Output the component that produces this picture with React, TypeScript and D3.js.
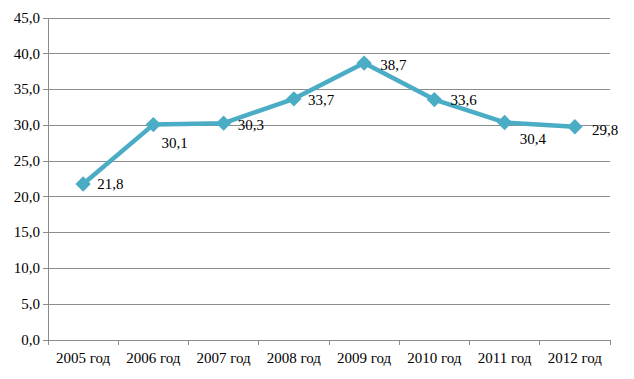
import React from "react";
import * as d3 from "d3";

const categories = ["2005 год", "2006 год", "2007 год", "2008 год", "2009 год", "2010 год", "2011 год", "2012 год"];
const values = [21.8, 30.1, 30.3, 33.7, 38.7, 33.6, 30.4, 29.8];
const yTicks = [0, 5, 10, 15, 20, 25, 30, 35, 40, 45];
// label offsets (dx, dy of baseline) relative to each point
const labelDx = [14, 8, 14, 14, 16, 16, 15, 17];
const labelDy = [5, 23, 7, 6, 7, 5, 22, 8];

const W = 634;
const H = 379;
const margin = { left: 48, right: 24, top: 18, bottom: 39 };

const fmt = (v: number) => v.toFixed(1).replace(".", ",");

export default function App() {
  const x = d3
    .scaleBand<string>()
    .domain(categories)
    .range([margin.left, W - margin.right])
    .paddingInner(0)
    .paddingOuter(0);
  const y = d3.scaleLinear().domain([0, 45]).range([H - margin.bottom, margin.top]);
  const cx = (c: string) => (x(c) as number) + x.bandwidth() / 2;

  const line = d3
    .line<number>()
    .x((_, i) => cx(categories[i]))
    .y((d) => y(d));

  const diamond = d3.symbol().type(d3.symbolDiamond2).size(150)();

  const grid = "#8c8c8c";
  const color = "#4BACC6";
  const textStyle = { fontFamily: "'Liberation Serif', 'Times New Roman', serif", fontSize: "15px" };

  return (
    <svg
      width={W}
      height={H}
      style={{ position: "absolute", left: 0, top: 0, display: "block" }}
    >
      <rect width={W} height={H} fill="#ffffff" />
      {yTicks.map((t) => (
        <g key={t}>
          <line x1={margin.left - 5} x2={W - margin.right} y1={y(t)} y2={y(t)} stroke={grid} strokeWidth={1} shapeRendering="crispEdges" />
          <text x={margin.left - 8} y={y(t)} dy="0.32em" textAnchor="end" fill="#000" style={textStyle}>
            {fmt(t)}
          </text>
        </g>
      ))}
      <line x1={margin.left} x2={margin.left} y1={y(45)} y2={y(0)} stroke={grid} strokeWidth={1} shapeRendering="crispEdges" />
      {categories.map((c, i) => (
        <line key={"t" + i} x1={x(c) as number} x2={x(c) as number} y1={y(0)} y2={y(0) + 5} stroke={grid} shapeRendering="crispEdges" />
      ))}
      <line x1={W - margin.right} x2={W - margin.right} y1={y(0)} y2={y(0) + 5} stroke={grid} shapeRendering="crispEdges" />
      {categories.map((c) => (
        <text key={c} x={cx(c)} y={H - 16} textAnchor="middle" fill="#000" style={textStyle}>
          {c}
        </text>
      ))}
      <path d={line(values) as string} fill="none" stroke={color} strokeWidth={4.5} strokeLinejoin="round" />
      {values.map((v, i) => (
        <path key={"m" + i} d={diamond as string} transform={`translate(${cx(categories[i])},${y(v)})`} fill={color} />
      ))}
      {values.map((v, i) => (
        <text key={"l" + i} x={cx(categories[i]) + labelDx[i]} y={y(v) + labelDy[i]} fill="#000" style={textStyle}>
          {fmt(v)}
        </text>
      ))}
    </svg>
  );
}
